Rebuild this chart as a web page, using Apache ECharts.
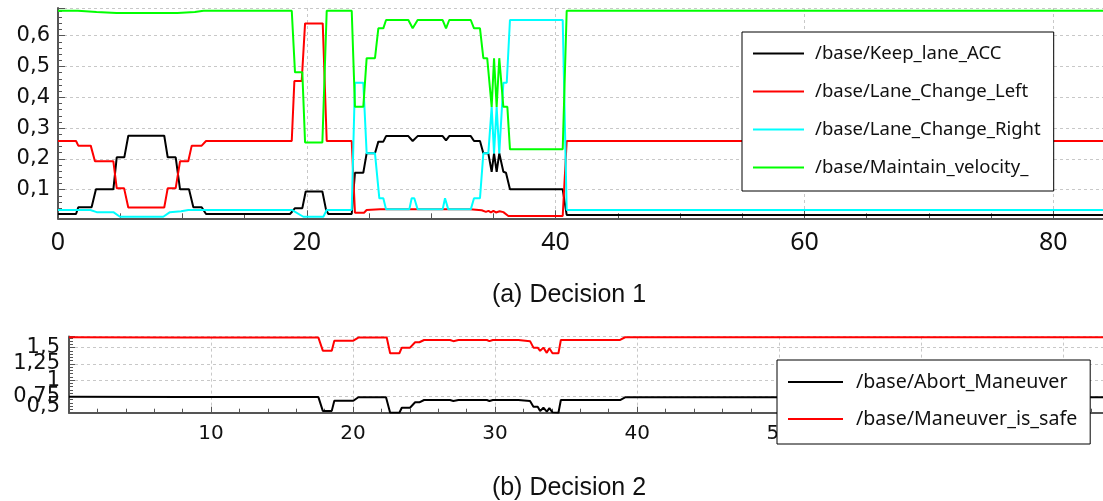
<!DOCTYPE html>
<html><head><meta charset="utf-8">
<script src="https://cdn.jsdelivr.net/npm/echarts@6/dist/echarts.min.js"></script>
<style>html,body{margin:0;padding:0;background:#fff}#c{width:1103px;height:501px}</style>
</head><body><div id="c"></div>
<script>
// ---------- Decision 1 ----------
const decision1Names = ['/base/Keep_lane_ACC', '/base/Lane_Change_Left', '/base/Lane_Change_Right', '/base/Maintain_velocity_'];
const decision1Colors = ['#000000', '#ff0000', '#00ffff', '#00ff00'];
const topXTicks = [0, 20, 40, 60, 80];
const topYTicks = [0.1, 0.2, 0.3, 0.4, 0.5, 0.6];

const keepLaneAcc = [[0,0.021],[1.45,0.021],[1.63,0.043],[2.7,0.043],[3.05,0.101],[4.45,0.101],[4.72,0.205],[5.33,0.205],[5.65,0.275],[8.54,0.275],[8.82,0.205],[9.46,0.205],[9.81,0.101],[10.53,0.101],[10.88,0.043],[11.55,0.043],[11.9,0.021],[18.65,0.021],[18.85,0.03],[19.05,0.04],[19.64,0.04],[19.91,0.094],[21.25,0.094],[21.54,0.036],[21.73,0.021],[23.61,0.021],[23.87,0.155],[24.54,0.155],[24.81,0.218],[25.48,0.218],[25.75,0.256],[26.15,0.256],[26.37,0.274],[28.16,0.274],[28.51,0.258],[28.91,0.274],[30.92,0.274],[31.19,0.26],[31.45,0.274],[33.18,0.274],[33.44,0.258],[33.92,0.258],[34.19,0.218],[34.59,0.218],[34.86,0.158],[35.05,0.218],[35.26,0.158],[35.47,0.218],[35.8,0.158],[36.01,0.155],[36.33,0.101],[40.57,0.101],[40.89,0.018],[84,0.018]];
const laneChangeLeft = [[0,0.258],[1.45,0.258],[1.63,0.243],[2.63,0.243],[2.97,0.192],[4.45,0.192],[4.72,0.105],[5.31,0.105],[5.65,0.042],[8.54,0.042],[8.82,0.105],[9.46,0.105],[9.81,0.192],[10.47,0.192],[10.75,0.243],[11.55,0.243],[11.9,0.258],[18.79,0.258],[19.0,0.453],[19.59,0.453],[19.86,0.64],[21.28,0.64],[21.6,0.258],[23.61,0.258],[23.87,0.025],[24.6,0.025],[24.81,0.034],[25.88,0.036],[33.12,0.036],[34.06,0.033],[34.4,0.028],[34.6,0.031],[34.8,0.026],[35.0,0.031],[35.2,0.026],[35.5,0.03],[35.8,0.027],[36.2,0.0146],[40.57,0.0146],[40.89,0.258],[84,0.258]];
const laneChangeRight = [[0,0.034],[2.6,0.034],[3.11,0.027],[4.45,0.027],[4.98,0.012],[8.46,0.012],[9.0,0.027],[9.9,0.03],[10.47,0.034],[18.79,0.034],[19.72,0.012],[21.33,0.012],[21.6,0.034],[23.61,0.034],[23.87,0.447],[24.54,0.447],[24.81,0.218],[25.48,0.218],[25.83,0.072],[26.15,0.072],[26.37,0.036],[28.24,0.036],[28.43,0.072],[28.64,0.072],[28.91,0.036],[30.92,0.036],[31.11,0.072],[31.37,0.036],[33.18,0.036],[33.44,0.072],[33.92,0.072],[34.19,0.218],[34.59,0.218],[34.86,0.369],[35.05,0.218],[35.26,0.369],[35.47,0.218],[35.8,0.447],[36.07,0.447],[36.33,0.651],[40.57,0.651],[40.89,0.034],[84,0.034]];
const maintainVelocity = [[0,0.681],[1.6,0.681],[3.1,0.677],[4.7,0.674],[9.6,0.674],[11.0,0.677],[11.7,0.681],[18.79,0.681],[19.05,0.481],[19.64,0.481],[19.86,0.253],[21.25,0.253],[21.6,0.681],[23.61,0.681],[23.87,0.369],[24.54,0.369],[24.81,0.527],[25.48,0.527],[25.75,0.624],[26.15,0.624],[26.37,0.651],[28.16,0.651],[28.51,0.624],[28.91,0.651],[30.92,0.651],[31.19,0.624],[31.45,0.651],[33.18,0.651],[33.44,0.624],[33.92,0.624],[34.19,0.527],[34.5,0.527],[34.86,0.369],[35.05,0.527],[35.26,0.369],[35.47,0.527],[35.8,0.369],[36.12,0.369],[36.33,0.231],[40.57,0.231],[40.89,0.681],[84,0.681]];
const decision1Data = [keepLaneAcc, laneChangeLeft, laneChangeRight, maintainVelocity];

// ---------- Decision 2 ----------
const decision2Names = ['/base/Abort_Maneuver', '/base/Maneuver_is_safe'];
const decision2Colors = ['#000000', '#ff0000'];
const bottomXTicks = [10, 20, 30, 40, 50, 60, 70];
const bottomYTicksA = [0.5, 1, 1.5];
const bottomYTicksB = [0.75, 1.25];

const abortManeuver = [[0,0.745],[8,0.74],[17.56,0.74],[17.87,0.528],[18.5,0.528],[18.68,0.683],[20.02,0.683],[20.37,0.737],[22.32,0.737],[22.61,0.5],[23.26,0.5],[23.43,0.577],[24.01,0.577],[24.37,0.66],[24.67,0.66],[25.0,0.695],[26.83,0.695],[27.06,0.68],[27.42,0.695],[29.42,0.695],[29.6,0.68],[29.84,0.695],[31.64,0.695],[32.46,0.68],[32.7,0.592],[33.0,0.59],[33.17,0.525],[33.4,0.577],[33.64,0.515],[33.82,0.57],[34.04,0.505],[34.46,0.5],[34.63,0.695],[38.8,0.695],[39.15,0.737],[72.8,0.737]];
const maneuverIsSafe = [[0,1.66],[8,1.655],[17.56,1.655],[17.87,1.454],[18.5,1.454],[18.68,1.608],[20.02,1.608],[20.37,1.655],[22.37,1.655],[22.61,1.414],[23.26,1.414],[23.43,1.5],[24.01,1.5],[24.37,1.583],[24.67,1.583],[25.0,1.618],[26.83,1.618],[27.06,1.6],[27.42,1.618],[29.42,1.618],[29.6,1.6],[29.84,1.618],[31.64,1.618],[32.46,1.6],[32.7,1.5],[33.0,1.5],[33.17,1.45],[33.4,1.5],[33.64,1.42],[33.82,1.49],[34.04,1.414],[34.46,1.414],[34.63,1.618],[38.8,1.618],[39.15,1.66],[72.8,1.66]];
const decision2Data = [abortManeuver, maneuverIsSafe];

const fmtComma = v => String(+v.toFixed(2)).replace('.', ',');
const inList = (list, v) => list.some(t => Math.abs(t - v) < 1e-6);

const axisGray = '#555555';
const gridLine = {show: true, lineStyle: {color: '#c8c8c8', type: [3, 3], width: 1}};

const chart = echarts.init(document.getElementById('c'), null, {renderer: 'canvas'});

const series = [];
decision1Names.forEach((n, i) => series.push({
  name: n, type: 'line', xAxisIndex: 0, yAxisIndex: 0, data: decision1Data[i],
  showSymbol: false, symbol: 'none', color: decision1Colors[i],
  lineStyle: {color: decision1Colors[i], width: 2}, itemStyle: {color: decision1Colors[i]},
  animation: false, z: 2
}));
decision2Names.forEach((n, i) => series.push({
  name: n, type: 'line', xAxisIndex: 1, yAxisIndex: 1, data: decision2Data[i],
  showSymbol: false, symbol: 'none', color: decision2Colors[i],
  lineStyle: {color: decision2Colors[i], width: 2}, itemStyle: {color: decision2Colors[i]},
  animation: false, z: 2
}));

const legendBase = {
  orient: 'vertical', icon: 'rect', itemHeight: 2, selectedMode: false,
  borderColor: '#000', borderWidth: 1, backgroundColor: '#fff', borderRadius: 0
};

const bottomYLabel = {show: true, showMinLabel: true, showMaxLabel: false, margin: 9, fontFamily: 'DejaVu Sans', fontSize: 21, color: '#111'};

chart.setOption({
  animation: false,
  backgroundColor: '#fff',
  grid: [
    {left: 58, right: 0, top: 8, height: 210.3},
    {left: 69, right: 0, top: 336.6, height: 76.1}
  ],
  xAxis: [{
    gridIndex: 0, type: 'value', min: 0, max: 84, interval: 20,
    axisLine: {show: true, lineStyle: {color: axisGray, width: 2}},
    axisTick: {show: true, inside: true, length: 8, lineStyle: {color: axisGray}},
    minorTick: {show: true, splitNumber: 4, length: 5, lineStyle: {color: axisGray}},
    splitLine: gridLine,
    axisLabel: {show: true, showMinLabel: true, showMaxLabel: false, margin: 12, fontFamily: 'Noto Sans', fontSize: 25, color: '#111',
      formatter: v => inList(topXTicks, v) ? String(v) : ''}
  }, {
    gridIndex: 1, type: 'value', min: 0, max: 72.8, interval: 10,
    axisLine: {show: true, lineStyle: {color: axisGray, width: 2}},
    axisTick: {show: true, inside: true, length: 6, lineStyle: {color: axisGray}},
    minorTick: {show: true, splitNumber: 5, length: 4, lineStyle: {color: axisGray}},
    splitLine: gridLine,
    axisLabel: {show: true, showMinLabel: false, showMaxLabel: false, margin: 11, fontFamily: 'DejaVu Sans', fontSize: 20, color: '#111',
      formatter: v => inList(bottomXTicks, v) ? String(v) : ''}
  }],
  yAxis: [{
    gridIndex: 0, type: 'value', min: 0.007, max: 0.69, splitNumber: 7,
    axisLine: {show: true, lineStyle: {color: axisGray, width: 2}},
    axisTick: {show: true, inside: true, length: 7, lineStyle: {color: axisGray}},
    minorTick: {show: true, splitNumber: 5, length: 4, lineStyle: {color: axisGray}},
    splitLine: gridLine,
    axisLabel: {show: true, showMinLabel: false, showMaxLabel: false, margin: 8, fontFamily: 'DejaVu Sans', fontSize: 21, color: '#111',
      formatter: v => inList(topYTicks, v) ? fmtComma(v) : ''}
  }, {
    gridIndex: 1, type: 'value', min: 0.5, max: 1.67, interval: 0.25,
    axisLine: {show: true, lineStyle: {color: axisGray, width: 2}},
    axisTick: {show: true, inside: true, length: 6, lineStyle: {color: axisGray}},
    minorTick: {show: true, splitNumber: 5, length: 4, lineStyle: {color: axisGray}},
    splitLine: gridLine,
    axisLabel: Object.assign({}, bottomYLabel, {verticalAlignMinLabel: 'bottom', lineHeight: 12,
      formatter: v => inList(bottomYTicksA, v) ? fmtComma(v) : ''})
  }, {
    gridIndex: 1, type: 'value', min: 0.5, max: 1.67, interval: 0.25, position: 'left',
    axisLine: {show: false}, axisTick: {show: false}, minorTick: {show: false}, splitLine: {show: false},
    axisLabel: Object.assign({}, bottomYLabel, {showMinLabel: false,
      formatter: v => inList(bottomYTicksB, v) ? fmtComma(v) : ''})
  }],
  legend: [
    Object.assign({}, legendBase, {
      data: decision1Names, left: 742, top: 32, itemWidth: 51, itemGap: 19,
      padding: [12, 13, 14, 11],
      textStyle: {fontFamily: 'Noto Sans', fontSize: 18.5, color: '#111', padding: [0, 0, 0, 6]}
    }),
    Object.assign({}, legendBase, {
      data: decision2Names, left: 777, top: 360, itemWidth: 55, itemGap: 17,
      padding: [12, 13, 15, 11],
      textStyle: {fontFamily: 'Noto Sans', fontSize: 19.6, color: '#111', padding: [0, 0, 0, 8]}
    })
  ],
  graphic: [
    {type: 'text', x: 569, y: 295, style: {text: '(a) Decision 1', align: 'center', verticalAlign: 'middle', fontFamily: 'Liberation Sans', fontSize: 25, fill: '#111'}},
    {type: 'text', x: 569, y: 488, style: {text: '(b) Decision 2', align: 'center', verticalAlign: 'middle', fontFamily: 'Liberation Sans', fontSize: 25, fill: '#111'}}
  ],
  series: series
});
</script>
</body></html>
